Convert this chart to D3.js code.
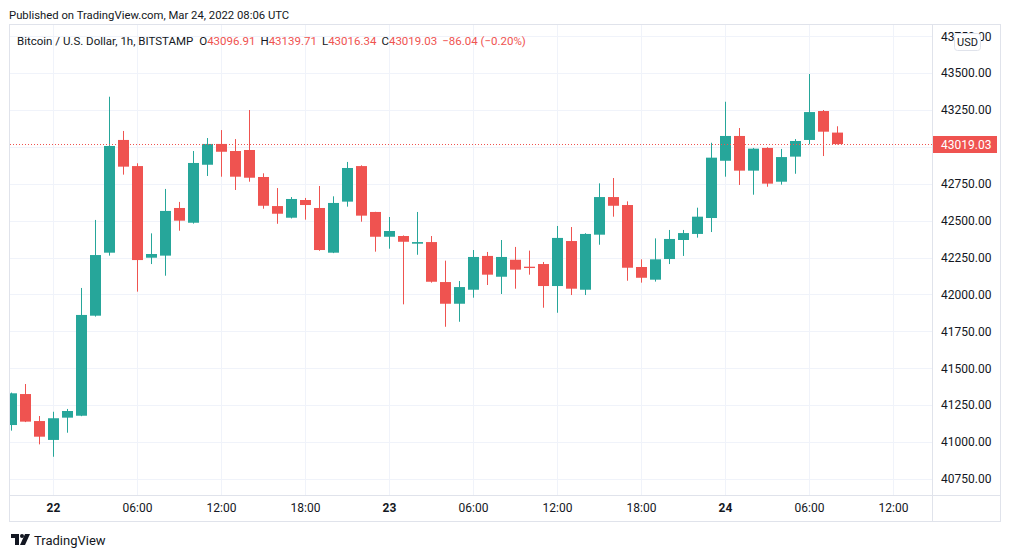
<!DOCTYPE html>
<html>
<head>
<meta charset="utf-8">
<script src="https://cdn.jsdelivr.net/npm/d3@7"></script>
<style>
  body { margin: 0; background: #fff; }
  text { font-family: Roboto, "Noto Sans", sans-serif; }
</style>
</head>
<body>
<div id="chart"></div>
<script>
// Hourly BTC/USD candles, BITSTAMP, Mar 21 21:00 -> Mar 24 08:00 UTC
const times = [
  "2022-03-21T21:00:00Z", "2022-03-21T22:00:00Z", "2022-03-21T23:00:00Z",
  "2022-03-22T00:00:00Z", "2022-03-22T01:00:00Z", "2022-03-22T02:00:00Z", "2022-03-22T03:00:00Z",
  "2022-03-22T04:00:00Z", "2022-03-22T05:00:00Z", "2022-03-22T06:00:00Z", "2022-03-22T07:00:00Z",
  "2022-03-22T08:00:00Z", "2022-03-22T09:00:00Z", "2022-03-22T10:00:00Z", "2022-03-22T11:00:00Z",
  "2022-03-22T12:00:00Z", "2022-03-22T13:00:00Z", "2022-03-22T14:00:00Z", "2022-03-22T15:00:00Z",
  "2022-03-22T16:00:00Z", "2022-03-22T17:00:00Z", "2022-03-22T18:00:00Z", "2022-03-22T19:00:00Z",
  "2022-03-22T20:00:00Z", "2022-03-22T21:00:00Z", "2022-03-22T22:00:00Z", "2022-03-22T23:00:00Z",
  "2022-03-23T00:00:00Z", "2022-03-23T01:00:00Z", "2022-03-23T02:00:00Z", "2022-03-23T03:00:00Z",
  "2022-03-23T04:00:00Z", "2022-03-23T05:00:00Z", "2022-03-23T06:00:00Z", "2022-03-23T07:00:00Z",
  "2022-03-23T08:00:00Z", "2022-03-23T09:00:00Z", "2022-03-23T10:00:00Z", "2022-03-23T11:00:00Z",
  "2022-03-23T12:00:00Z", "2022-03-23T13:00:00Z", "2022-03-23T14:00:00Z", "2022-03-23T15:00:00Z",
  "2022-03-23T16:00:00Z", "2022-03-23T17:00:00Z", "2022-03-23T18:00:00Z", "2022-03-23T19:00:00Z",
  "2022-03-23T20:00:00Z", "2022-03-23T21:00:00Z", "2022-03-23T22:00:00Z", "2022-03-23T23:00:00Z",
  "2022-03-24T00:00:00Z", "2022-03-24T01:00:00Z", "2022-03-24T02:00:00Z", "2022-03-24T03:00:00Z",
  "2022-03-24T04:00:00Z", "2022-03-24T05:00:00Z", "2022-03-24T06:00:00Z", "2022-03-24T07:00:00Z",
  "2022-03-24T08:00:00Z"
];
const opens = [
  41115, 41325, 41142, 41014, 41165, 41178, 41856, 42283, 43047, 42870,
  42249, 42263, 42586, 42486, 42879, 43020, 42972, 42979, 42796, 42599,
  42520, 42640, 42586, 42283, 42629, 42870, 42559, 42391, 42396, 42344,
  42355, 42084, 41937, 42032, 42261, 42120, 42235, 42188, 42206, 42057,
  42362, 42032, 42405, 42660, 42606, 42186, 42100, 42240, 42369, 42410,
  42518, 42906, 43074, 42839, 42993, 42764, 42934, 43047, 43243, 43096.91
];
const highs = [
  41335, 41393, 41176, 41205, 41224, 42044, 42505, 43340, 43108, 42889,
  42414, 42715, 42627, 42972, 43060, 43114, 43053, 43250, 42821, 42721,
  42660, 42654, 42735, 42665, 42898, 42875, 42560, 42525, 42400, 42559,
  42396, 42229, 42091, 42301, 42288, 42369, 42322, 42297, 42220, 42464,
  42457, 42415, 42753, 42789, 42631, 42238, 42380, 42437, 42437, 42588,
  43028, 43306, 43128, 42993, 42998, 42986, 43053, 43494, 43250, 43139.71
];
const lows = [
  41077, 41135, 40984, 40900, 41063, 41175, 41850, 42263, 42812, 42019,
  42206, 42127, 42432, 42480, 42803, 42798, 42708, 42764, 42581, 42479,
  42515, 42507, 42296, 42280, 42595, 42493, 42290, 42310, 41933, 42269,
  42080, 41781, 41815, 41978, 42064, 42003, 42039, 42134, 41910, 41876,
  41996, 41996, 42337, 42527, 42093, 42080, 42087, 42206, 42261, 42385,
  42423, 42798, 42742, 42676, 42730, 42744, 42818, 43018, 42938, 43016.34
];
const closes = [
  41330, 41138, 41036, 41161, 41210, 41861, 42267, 43006, 42866, 42233,
  42274, 42566, 42500, 42891, 43020, 42967, 42798, 42791, 42601, 42547,
  42647, 42606, 42301, 42620, 42857, 42534, 42391, 42430, 42357, 42355,
  42086, 41937, 42050, 42254, 42134, 42254, 42168, 42179, 42057, 42383,
  42039, 42410, 42660, 42601, 42181, 42113, 42238, 42376, 42416, 42527,
  42927, 43074, 42839, 42988, 42751, 42931, 43040, 43236, 43103, 43019.03
];

const priceTicks = [40750, 41000, 41250, 41500, 41750, 42000, 42250, 42500, 42750, 43000, 43250, 43500, 43750];
const timeTicks = [
  "2022-03-22T00:00:00Z", "2022-03-22T06:00:00Z", "2022-03-22T12:00:00Z", "2022-03-22T18:00:00Z",
  "2022-03-23T00:00:00Z", "2022-03-23T06:00:00Z", "2022-03-23T12:00:00Z", "2022-03-23T18:00:00Z",
  "2022-03-24T00:00:00Z", "2022-03-24T06:00:00Z", "2022-03-24T12:00:00Z"
];
const timeTickLabels = ["22", "06:00", "12:00", "18:00", "23", "06:00", "12:00", "18:00", "24", "06:00", "12:00"];
const dayLabels = ["22", "23", "24"];

const legendTitle = "Bitcoin / U.S. Dollar, 1h, BITSTAMP";
const lastChange = "\u221286.04 (\u22120.20%)";

const W = 1012, H = 558;
const GREEN = "#26a69a", RED = "#ef5350", TEXT = "#131722", GRID = "#f0f3fa", BORDER = "#e0e3eb";

// pane geometry
const pane = {left: 10, top: 25, right: 932, bottom: 495};
const frameRight = 1001, frameBottom = 522;

const data = times.map((t, i) => ({
  date: d3.isoParse(t), o: opens[i], h: highs[i], l: lows[i], c: closes[i]
}));
const last = data[data.length - 1];

const svg = d3.select("#chart").append("svg")
    .attr("width", W)
    .attr("height", H);

// 14px per hour, 22 00:00 sits at x=53
const x = d3.scaleUtc()
    .domain([d3.isoParse(timeTicks[0]), d3.isoParse(timeTicks[10])])
    .range([53, 893]);

const y = d3.scaleLinear()
    .domain([41000, 43250])
    .range([442, 110]);

svg.append("text")
    .attr("x", 9).attr("y", 18.5)
    .attr("fill", TEXT)
    .style("font-size", "11.3px")
    .text("Published on TradingView.com, Mar 24, 2022 08:06 UTC");

// grid
const grid = svg.append("g");
grid.selectAll(".hg").data(priceTicks).enter().append("line")
    .attr("x1", pane.left).attr("x2", pane.right)
    .attr("y1", d => Math.round(y(d)) + 0.5).attr("y2", d => Math.round(y(d)) + 0.5)
    .attr("stroke", GRID);
grid.selectAll(".vg").data(timeTicks).enter().append("line")
    .attr("x1", d => Math.round(x(d3.isoParse(d))) + 0.5).attr("x2", d => Math.round(x(d3.isoParse(d))) + 0.5)
    .attr("y1", pane.top).attr("y2", pane.bottom)
    .attr("stroke", GRID);

svg.append("clipPath").attr("id", "pane")
  .append("rect")
    .attr("x", pane.left).attr("y", pane.top)
    .attr("width", pane.right - pane.left).attr("height", pane.bottom - pane.top);

const candles = svg.append("g").attr("clip-path", "url(#pane)")
  .selectAll("g").data(data).enter().append("g");

candles.append("rect")
    .attr("x", d => Math.round(x(d.date)))
    .attr("width", 1)
    .attr("y", d => y(d.h))
    .attr("height", d => Math.max(1, y(d.l) - y(d.h)))
    .attr("fill", d => d.c >= d.o ? GREEN : RED);

candles.append("rect")
    .attr("x", d => Math.round(x(d.date)) - 5)
    .attr("width", 11)
    .attr("y", d => y(Math.max(d.o, d.c)))
    .attr("height", d => Math.max(1, Math.abs(y(d.o) - y(d.c))))
    .attr("fill", d => d.c >= d.o ? GREEN : RED);

// last price line
svg.append("line")
    .attr("x1", pane.left).attr("x2", pane.right)
    .attr("y1", Math.round(y(last.c)) + 0.5).attr("y2", Math.round(y(last.c)) + 0.5)
    .attr("stroke", RED)
    .attr("stroke-dasharray", "1,2");

// frame
svg.append("rect")
    .attr("x", pane.left - 0.5).attr("y", pane.top - 0.5)
    .attr("width", frameRight - pane.left).attr("height", frameBottom - pane.top)
    .attr("fill", "none").attr("stroke", BORDER);
svg.append("line")
    .attr("x1", pane.right + 0.5).attr("x2", pane.right + 0.5)
    .attr("y1", pane.top).attr("y2", frameBottom)
    .attr("stroke", BORDER);
svg.append("line")
    .attr("x1", pane.left).attr("x2", frameRight)
    .attr("y1", pane.bottom + 0.5).attr("y2", pane.bottom + 0.5)
    .attr("stroke", BORDER);

// price axis
const yAxis = svg.append("g")
    .attr("transform", `translate(${pane.right}, 0)`)
    .call(d3.axisRight(y).tickValues(priceTicks).tickFormat(d3.format(".2f")).tickSize(0).tickPadding(9));
yAxis.select(".domain").remove();
yAxis.selectAll("text")
    .attr("fill", TEXT)
    .style("font-size", "12px");

// time axis
const xAxis = svg.append("g")
    .attr("transform", `translate(0, ${pane.bottom})`)
    .call(d3.axisBottom(x)
      .tickValues(timeTicks.map(d3.isoParse))
      .tickFormat((d, i) => timeTickLabels[i])
      .tickSize(0).tickPadding(8));
xAxis.select(".domain").remove();
xAxis.selectAll("text")
    .attr("fill", TEXT)
    .style("font-size", "12px")
    .style("font-weight", (d, i) => dayLabels.includes(timeTickLabels[i]) ? "bold" : "normal");

// USD badge, sits over the top price label as in the original
const usd = svg.append("g");
usd.append("rect")
    .attr("x", 954.5).attr("y", 33.5).attr("width", 26).attr("height", 17).attr("rx", 3)
    .attr("fill", "#fff").attr("stroke", BORDER);
usd.append("text")
    .attr("x", 967.5).attr("y", 42).attr("dy", "0.35em")
    .attr("text-anchor", "middle")
    .attr("fill", TEXT)
    .style("font-size", "11px")
    .text("USD");

// last price label
const fmt = d3.format(".2f");
svg.append("rect")
    .attr("x", pane.right + 1).attr("y", Math.round(y(last.c)) - 8)
    .attr("width", 64).attr("height", 17)
    .attr("fill", RED);
svg.append("text")
    .attr("x", pane.right + 9).attr("y", y(last.c) + 1).attr("dy", "0.35em")
    .attr("fill", "#fff")
    .style("font-size", "12px")
    .text(fmt(last.c));

// legend
const legend = svg.append("text")
    .attr("x", 17).attr("y", 45)
    .attr("fill", TEXT)
    .style("font-size", "11.5px");
legend.append("tspan").text(legendTitle);
[["O", last.o], ["H", last.h], ["L", last.l], ["C", last.c]].forEach(([k, v], i) => {
  legend.append("tspan").attr("dx", i === 0 ? 6 : 5).attr("fill", TEXT).text(k);
  legend.append("tspan").attr("fill", RED).text(fmt(v));
});
legend.append("tspan").attr("dx", 5).attr("fill", RED).text(lastChange);

// TradingView footer
const logo = svg.append("g").attr("transform", "translate(11, 534)").attr("fill", TEXT);
logo.append("path").attr("d", "M0 0 H8 V11 H4 V4 H0 Z");
logo.append("circle").attr("cx", 11).attr("cy", 2).attr("r", 2);
logo.append("path").attr("d", "M14 0 H19 L14 11 H9 Z");
svg.append("text")
    .attr("x", 34).attr("y", 545)
    .attr("fill", TEXT)
    .style("font-size", "13px")
    .text("TradingView");
</script>
</body>
</html>
